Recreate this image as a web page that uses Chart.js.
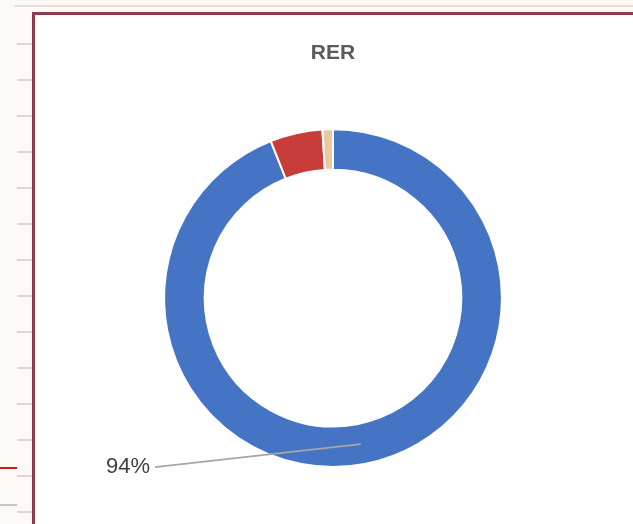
<!DOCTYPE html>
<html>
<head>
<meta charset="utf-8">
<script src="https://cdn.jsdelivr.net/npm/chart.js@4.4.0/dist/chart.umd.min.js"></script>
<style>
  html, body { margin: 0; padding: 0; }
  body {
    width: 633px; height: 524px; overflow: hidden; position: relative;
    background: #fdf9f6;
  }
  /* spreadsheet bits peeking out behind the chart */
  #topline { position: absolute; left: 15px; top: 5px; width: 618px; height: 2px; background: #e6dfda; }
  #ticks {
    position: absolute; left: 17px; top: 9px; width: 16px; height: 515px;
    background: repeating-linear-gradient(to bottom, transparent 0, transparent 34px, #ddd6d2 34px, #ddd6d2 36px);
  }
  #redline { position: absolute; left: 0; top: 467px; width: 17px; height: 2px; background: #d01818; }
  #grayline { position: absolute; left: 0; top: 504px; width: 17px; height: 2px; background: #c9c4c1; }
  #frame {
    position: absolute; left: 32px; top: 12px; width: 601px; height: 512px;
    background: #fff; border-left: 3px solid #8f3a4c; border-top: 3px solid #8f3a4c;
    box-sizing: border-box;
  }
  #wrap { position: absolute; left: 35px; top: 15px; width: 598px; height: 509px; }
</style>
</head>
<body>
<div id="topline"></div>
<div id="ticks"></div>
<div id="redline"></div>
<div id="grayline"></div>
<div id="frame"></div>
<div id="wrap"><canvas id="rer"></canvas></div>
<script>
// RER breakdown (legend hidden in the original)
var categories = ['Category 1', 'Category 2', 'Category 3'];
var values = [94, 5, 1];
var chartTitle = 'RER';

// Excel-style leader line + percentage for the big slice only
var leaderLabel = {
  id: 'leaderLabel',
  afterDatasetsDraw: function (chart) {
    var ctx = chart.ctx;
    var arc = chart.getDatasetMeta(0).data[0];
    var p = arc.getProps(['x', 'y', 'startAngle', 'endAngle', 'innerRadius', 'outerRadius'], true);
    var total = values.reduce(function (a, b) { return a + b; }, 0);
    var txt = Math.round(values[0] / total * 100) + '%';
    var mid = (p.startAngle + p.endAngle) / 2;
    var r = (p.innerRadius + p.outerRadius) / 2;
    var ex = p.x + Math.cos(mid) * r, ey = p.y + Math.sin(mid) * r;
    var lx = p.x - 183, ly = p.y + 169;

    ctx.save();
    ctx.strokeStyle = '#a6a6a6';
    ctx.lineWidth = 1.8;
    ctx.beginPath();
    ctx.moveTo(lx + 5, ly);
    ctx.lineTo(ex, ey);
    ctx.stroke();
    ctx.fillStyle = '#404040';
    ctx.font = '22px "Liberation Sans", Arial, sans-serif';
    ctx.textAlign = 'right';
    ctx.textBaseline = 'middle';
    ctx.fillText(txt, lx, ly);
    ctx.restore();
  }
};

var chart = new Chart(document.getElementById('rer'), {
  type: 'doughnut',
  data: {
    labels: categories,
    datasets: [{
      data: values,
      backgroundColor: ['#4674c4', '#c83d39', '#ebc9a0'],
      borderColor: '#ffffff',
      borderWidth: 2
    }]
  },
  options: {
    responsive: true,
    maintainAspectRatio: false,
    animation: false,
    cutout: '76%',
    layout: { padding: { top: 0, bottom: 56, left: 128, right: 130 } },
    plugins: {
      legend: { display: false },
      tooltip: { enabled: false },
      title: {
        display: true,
        text: chartTitle,
        color: '#595959',
        font: { family: '"Liberation Sans", Arial, sans-serif', size: 21, weight: 'bold' },
        padding: { top: 26, bottom: 62 }
      }
    }
  },
  plugins: [leaderLabel]
});
</script>
</body>
</html>
